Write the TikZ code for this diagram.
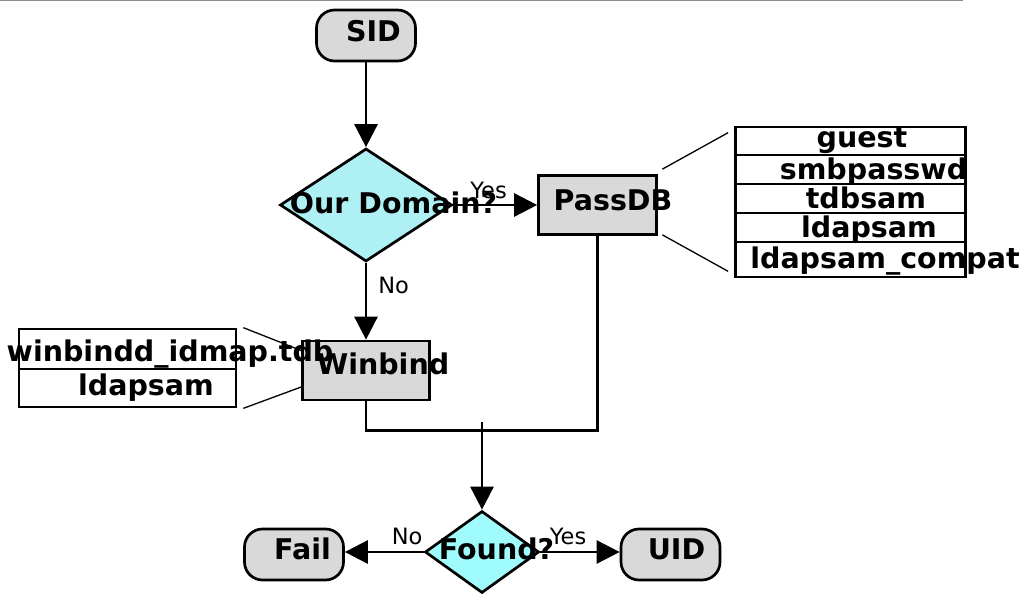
\documentclass[tikz,border=0pt]{standalone}
\usepackage{fontspec}
\setmainfont{DejaVu Sans}
\usepackage{xcolor}
\usepackage{tikz}
\usetikzlibrary{shapes.geometric, arrows.meta, positioning, calc}
\definecolor{boxgray}{RGB}{217,217,217}
\definecolor{domcyan}{RGB}{175,240,245}
\definecolor{foundcyan}{RGB}{160,252,252}
\definecolor{rulegray}{RGB}{140,140,140}
\newcommand{\headfont}{\fontsize{28.5}{30}\selectfont\bfseries}
\newcommand{\lblfont}{\fontsize{22.5}{24}\selectfont}

\begin{document}
\begin{tikzpicture}[x=1pt, y=-1pt,
  term/.style={draw, line width=2.7pt, fill=boxgray, rounded corners=18pt, minimum width=99pt, minimum height=51pt, inner sep=0pt},
  proc/.style={draw, line width=2.7pt, fill=boxgray, inner sep=0pt},
  decision/.style={diamond, draw, line width=2.7pt, inner sep=0pt, aspect=1},
  tab/.style={draw, line width=2.7pt, fill=white, inner sep=0pt},
  every label/.style={font=\headfont, inner sep=0pt},
  lbl/.style={font=\lblfont, inner sep=0pt},
  arr/.style={line width=2.7pt, -{Triangle[length=23pt, width=23pt]}},
  tie/.style={line width=1.3pt}
]
\useasboundingbox (0,0) rectangle (1027,596);

% Top rule
\draw[rulegray, line width=1.3pt] (0,0.7) -- (963,0.7);

% Draw flow shapes
\node[term, label={[xshift=7.5pt, yshift=4pt]center:SID}] (sid) at (366,35.5) {};
\node[decision, fill=domcyan, minimum width=172pt, minimum height=113pt,
  label={[xshift=27.5pt, yshift=2.5pt]center:Our Domain?}] (dom) at (366,205) {};
\node[proc, minimum width=118pt, minimum height=59pt,
  label={[xshift=15.5pt, yshift=5pt]center:PassDB}] (passdb) at (597.5,205) {};
\node[proc, minimum width=127pt, minimum height=59pt,
  label={[xshift=17pt, yshift=6.5pt]center:Winbind}] (winbind) at (366,370.5) {};
\node[decision, fill=foundcyan, minimum width=114pt, minimum height=82pt,
  label={[xshift=14.5pt, yshift=3pt]center:Found?}] (found) at (482,552) {};
\node[term, label={[xshift=8.5pt, yshift=5.5pt]center:Fail}] (fail) at (294,554.5) {};
\node[term, label={[xshift=6pt, yshift=5.5pt]center:UID}] (uid) at (670.5,554.5) {};

% PassDB backends
\node[tab, minimum width=230pt, minimum height=150pt] (pdbtab) at (850.5,202) {};
\foreach \y in {155,184,213,242}
  \draw[line width=1.5pt] (pdbtab.west |- 0,\y) -- (pdbtab.east |- 0,\y);
\foreach \t/\x/\y [count=\i] in {guest/862/148, smbpasswd/873.5/179, tdbsam/866/208, ldapsam/869/237, ldapsam\_compat/885/268}
  \node[font=\headfont, inner sep=0pt, anchor=base] (pdb\i) at (\x,\y) {\t};

% Winbind backends
\node[tab, minimum width=217pt, minimum height=78pt] (wbtab) at (127.5,368) {};
\draw[line width=1.5pt] (wbtab.west |- 0,369) -- (wbtab.east |- 0,369);
\foreach \t/\x/\y [count=\i] in {winbindd\_idmap.tdb/170/361, ldapsam/146/395}
  \node[font=\headfont, inner sep=0pt, anchor=base] (wb\i) at (\x,\y) {\t};

% Connectors
\draw[arr] (sid.south) -- (dom.north);
\draw[arr] (dom.east) -- node[lbl, above=5pt, pos=0.42] {Yes} (passdb.west);
\draw[arr] (dom.south) -- node[lbl, right=11pt, pos=0.29] {No} (winbind.north);
\draw[line width=2.7pt] (winbind.south) -- ++(0,29) -| (passdb.south);
\coordinate (merge) at (482,422);
\draw[arr] (merge) -- (found.north);
\draw[arr] (found.west) -- node[lbl, above=6pt, pos=0.21] {No} (found.west -| fail.east);
\draw[arr] (found.east) -- node[lbl, above=6pt, pos=0.35] {Yes} (found.east -| uid.west);

% Backend ties
\draw[tie] ([shift={(4.5,-5)}]passdb.north east) -- ([shift={(-6,7)}]pdbtab.north west);
\draw[tie] ([shift={(4.5,-1)}]passdb.south east) -- ([shift={(-6,-7)}]pdbtab.south west);
\draw[tie] ([shift={(6,0)}]wbtab.north east) -- ([shift={(0,-20)}]winbind.west);
\draw[tie] ([shift={(6,0)}]wbtab.south east) -- ([shift={(0,16.5)}]winbind.west);
\end{tikzpicture}
\end{document}
